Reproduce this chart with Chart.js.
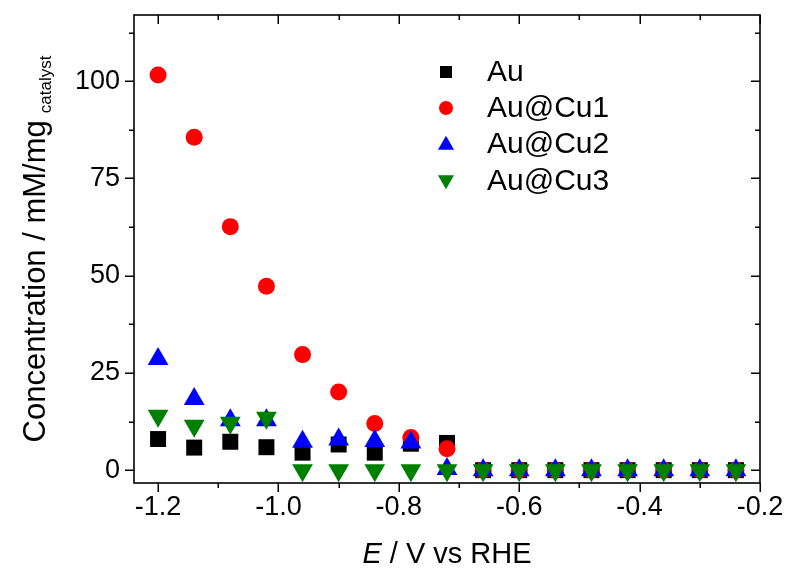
<!DOCTYPE html>
<html><head><meta charset="utf-8">
<script src="https://cdn.jsdelivr.net/npm/chart.js@4.4.0/dist/chart.umd.min.js"></script>
<style>html,body{margin:0;padding:0;background:#fff;} #wrap{width:791px;height:574px;}</style>
</head><body><div id="wrap"><canvas id="c" width="791" height="574"></canvas></div>
<script>
const potentials = [-1.20,-1.14,-1.08,-1.02,-0.96,-0.90,-0.84,-0.78,-0.72,-0.66,-0.60,-0.54,-0.48,-0.42,-0.36,-0.30,-0.24];
const au     = [8.0, 5.8, 7.3, 5.9, 4.5, 6.6, 4.5, 6.8, 7.0, 0, 0, 0, 0, 0, 0, 0, 0];
const auCu1  = [101.6, 85.6, 62.6, 47.3, 29.7, 20.1, 12.0, 8.4, 5.5, 0, 0, 0, 0, 0, 0, 0, 0];
const auCu2  = [28.6, 18.3, 12.8, 12.8, 7.3, 7.9, 7.5, 7.1, 0.3, 0, 0, 0, 0, 0, 0, 0, 0];
const auCu3  = [14.0, 11.4, 12.2, 13.5, 0, 0, 0, 0, 0, 0, 0, 0, 0, 0, 0, 0, 0];
const seriesNames = ['Au', 'Au@Cu1', 'Au@Cu2', 'Au@Cu3'];
const xMajorTicks = [-1.2, -1.0, -0.8, -0.6, -0.4, -0.2];
const xMinorTicks = [-1.1, -0.9, -0.7, -0.5, -0.3];
const yMajorTicks = [0, 25, 50, 75, 100];
const yMinorTicks = [12.5, 37.5, 62.5, 87.5, 112.5];

const FONT = "'Liberation Sans', Arial, sans-serif";
const colors = ['#000000', '#ff0000', '#0000ff', '#008000'];
const styles = ['rect', 'circle', 'triangle', 'triangle'];
const rotations = [0, 0, 0, 180];
const radii = [11.3, 8.5, 12, 12];
const seriesData = [au, auCu1, auCu2, auCu3];

const datasets = seriesNames.map((name, i) => ({
  label: name,
  data: potentials.map((x, j) => ({x: x, y: seriesData[i][j]})),
  showLine: false,
  pointStyle: styles[i],
  rotation: rotations[i],
  pointRadius: radii[i],
  pointHoverRadius: radii[i],
  pointBackgroundColor: colors[i],
  pointBorderColor: colors[i],
  pointBorderWidth: 0,
  backgroundColor: colors[i],
  borderColor: colors[i],
  order: 4 - i,
  clip: false
}));

function drawMarker(ctx, style, rot, x, y, r, color) {
  ctx.fillStyle = color;
  ctx.beginPath();
  if (style === 'rect') {
    ctx.rect(x - r, y - r, 2 * r, 2 * r);
  } else if (style === 'circle') {
    ctx.arc(x, y, r, 0, Math.PI * 2);
  } else {
    const s = rot === 180 ? -1 : 1;
    const w = r * Math.sqrt(3) / 2;
    ctx.moveTo(x, y - s * r);
    ctx.lineTo(x + w, y + s * r / 2);
    ctx.lineTo(x - w, y + s * r / 2);
    ctx.closePath();
  }
  ctx.fill();
}

const framePlugin = {
  id: 'frame',
  afterDatasetsDraw(chart) {
    const {ctx, chartArea: a, scales: {x, y}} = chart;
    ctx.save();
    ctx.strokeStyle = '#000';
    ctx.lineWidth = 1.6;
    ctx.strokeRect(a.left, a.top, a.right - a.left, a.bottom - a.top);
    ctx.lineWidth = 1.5;
    ctx.beginPath();
    const xt = (vals, len) => vals.forEach(v => {
      const p = Math.round(x.getPixelForValue(v)) + 0.25;
      ctx.moveTo(p, a.bottom); ctx.lineTo(p, a.bottom + len);
      ctx.moveTo(p, a.top); ctx.lineTo(p, a.top + len);
    });
    const yt = (vals, len) => vals.forEach(v => {
      const p = Math.round(y.getPixelForValue(v)) + 0.25;
      ctx.moveTo(a.left, p); ctx.lineTo(a.left - len, p);
      ctx.moveTo(a.right, p); ctx.lineTo(a.right - len, p);
    });
    xt(xMajorTicks, 9); xt(xMinorTicks, 5);
    yt(yMajorTicks, 9); yt(yMinorTicks, 5);
    ctx.stroke();

    // legend
    const lx = 446, tx = 487, rows = [72, 108, 144, 181];
    const lr = [8.5, 7, 9.3, 9.3];
    ctx.font = '30px ' + FONT;
    ctx.textBaseline = 'middle';
    ctx.textAlign = 'left';
    seriesNames.forEach((n, i) => {
      const rr = styles[i] === 'rect' ? 6 : lr[i];
      drawMarker(ctx, styles[i], rotations[i], lx, rows[i] + (styles[i]==='triangle' ? (rotations[i]===180 ? -1 : 1) : 0), rr, colors[i]);
      ctx.fillStyle = '#000';
      ctx.fillText(n, tx, rows[i] + 1);
    });

    // x title
    ctx.textBaseline = 'alphabetic';
    const cx = (a.left + a.right) / 2;
    ctx.font = 'italic 29px ' + FONT;
    const wE = ctx.measureText('E').width;
    ctx.font = '29px ' + FONT;
    const rest = ' / V vs RHE';
    const wR = ctx.measureText(rest).width;
    const sx = cx - (wE + wR) / 2;
    ctx.font = 'italic 29px ' + FONT;
    ctx.fillText('E', sx, 563);
    ctx.font = '29px ' + FONT;
    ctx.fillText(rest, sx + wE, 563);

    // y title
    const main = 'Concentration / mM/mg';
    const sub = 'catalyst';
    ctx.font = '31px ' + FONT;
    const wm = ctx.measureText(main).width;
    ctx.font = '17px ' + FONT;
    const ws = ctx.measureText(sub).width;
    const gap = 7;
    const total = wm + gap + ws;
    const cy = (a.top + a.bottom) / 2;
    ctx.translate(45, cy + total / 2);
    ctx.rotate(-Math.PI / 2);
    ctx.font = '31px ' + FONT;
    ctx.fillText(main, 0, 0);
    ctx.font = '17px ' + FONT;
    ctx.fillText(sub, wm + gap, 6);
    ctx.restore();
  }
};

new Chart(document.getElementById('c'), {
  type: 'scatter',
  data: {datasets},
  options: {
    responsive: false,
    animation: false,
    devicePixelRatio: 1,
    layout: {padding: {left: 0, top: 15, right: 31, bottom: 0}},
    plugins: {legend: {display: false}, tooltip: {enabled: false}},
    scales: {
      x: {
        type: 'linear', min: -1.24, max: -0.2,
        grid: {display: false, drawTicks: false},
        border: {display: false},
        afterBuildTicks: s => { s.ticks = xMajorTicks.map(v => ({value: v})); },
        afterFit: s => { s.height = 91; s.paddingLeft = 0; s.paddingRight = 0; s.paddingTop = 0; s.paddingBottom = 0; },
        ticks: {
          autoSkip: false, maxRotation: 0, padding: 8, color: '#000',
          font: {family: FONT, size: 27},
          callback: v => Number(v).toFixed(1)
        }
      },
      y: {
        type: 'linear', min: -3.3, max: 117,
        grid: {display: false, drawTicks: false},
        border: {display: false},
        afterBuildTicks: s => { s.ticks = yMajorTicks.map(v => ({value: v})); },
        afterFit: s => { s.width = 134; s.paddingLeft = 0; s.paddingRight = 0; s.paddingTop = 0; s.paddingBottom = 0; },
        ticks: {
          autoSkip: false, padding: 14, color: '#000',
          font: {family: FONT, size: 27},
          callback: v => String(v)
        }
      }
    }
  },
  plugins: [framePlugin]
});
</script>
</body></html>
